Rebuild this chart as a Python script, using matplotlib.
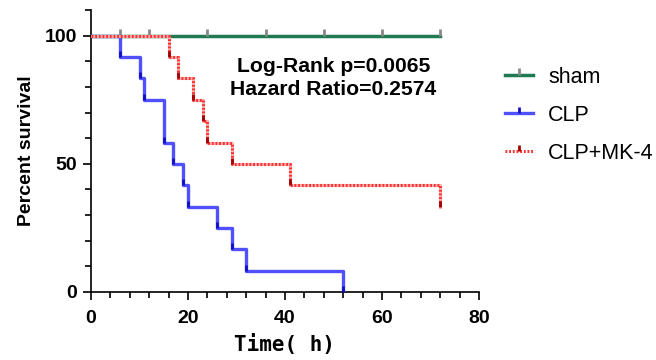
import matplotlib
matplotlib.use("Agg")
import matplotlib.pyplot as plt
from matplotlib.lines import Line2D
from matplotlib.ticker import MultipleLocator

plt.rcParams['font.family'] = ['Liberation Sans', 'Noto Sans CJK SC', 'DejaVu Sans']

# ---- données ----
sham_end = 72
sham_censor = [6, 12, 24, 36, 48, 60, 72]

clp_t = [6, 10, 11, 15, 17, 19, 20, 26, 29, 32, 52]
clp_s = [91.7, 83.3, 75.0, 58.3, 50.0, 41.7, 33.3, 25.0, 16.7, 8.3, 0.0]

mk4_t = [16, 18, 21, 23, 24, 29, 41, 72]
mk4_s = [91.7, 83.3, 75.0, 66.7, 58.3, 50.0, 41.7, 33.3]

labels = ["sham", "CLP", "CLP+MK-4"]
stats_txt = "Log-Rank p=0.0065\nHazard Ratio=0.2574"

green = "#1f7a52"
blue = "#5050ff"
red = "#ff3030"

fig = plt.figure(figsize=(6.56, 3.6), dpi=100)
ax = fig.add_axes([91/656, 1 - 292/360, (479-91)/656, (292-10)/360])

# sham
ax.plot([0, sham_end], [100, 100], color=green, lw=2.5, zorder=2)
ax.plot(sham_censor, [100]*len(sham_censor), ls="none", marker=2,
        ms=5, mew=2, color="#888888", zorder=2)

# CLP
ax.step([0] + clp_t, [100] + clp_s, where="post", color=blue, lw=2.4, zorder=3)
ax.plot(clp_t, clp_s, ls="none", marker=2, ms=4, mew=2, color="#1010c0", zorder=3)

# CLP+MK-4
x = [0] + mk4_t
y = [100] + mk4_s
ax.step(x, y, where="post", color="#ffb0b0", lw=2.2, zorder=4)
ax.step(x, y, where="post", color=red, lw=2.2, ls=(0, (0.6, 0.6)), zorder=4)
ax.plot(mk4_t, mk4_s, ls="none", marker=2, ms=4, mew=2, color="#a00000", zorder=4)

ax.text(50, 83.5, stats_txt, ha="center", va="center", fontsize=15.2,
        fontweight="bold", linespacing=1.25)

ax.set_xlim(0, 80)
ax.set_ylim(0, 110)
ax.spines["top"].set_visible(False)
ax.spines["right"].set_visible(False)
ax.spines["left"].set_bounds(0, 110)
ax.spines["bottom"].set_bounds(0, 80)
for s in ("left", "bottom"):
    ax.spines[s].set_linewidth(1.2)

ax.set_xticks([0, 20, 40, 60, 80])
ax.set_yticks([0, 50, 100])
ax.xaxis.set_minor_locator(MultipleLocator(4))
ax.yaxis.set_minor_locator(MultipleLocator(10))
ax.tick_params(which="major", length=6, width=1.2, labelsize=14)
ax.tick_params(axis="x", which="major", pad=7)
ax.tick_params(axis="y", which="major", pad=4)
ax.tick_params(which="minor", length=4, width=1.2)
for lab in ax.get_xticklabels() + ax.get_yticklabels():
    lab.set_fontweight("bold")

ax.set_ylabel("Percent survival", fontsize=14, fontweight="bold", labelpad=7)
ax.set_xlabel("Time( h)", fontsize=15, fontweight="bold",
              family="DejaVu Sans Mono", labelpad=5)

handles = [
    Line2D([0], [0], color=green, lw=2.5, marker=2, ms=5, mew=2, mec="#888888"),
    Line2D([0], [0], color=blue, lw=2.4, marker=2, ms=4, mew=2, mec="#1010c0"),
    Line2D([0], [0], color=red, lw=2.2, ls=(0, (0.6, 0.6)), marker=2, ms=4, mew=2, mec="#a00000"),
]
fig.legend(handles, labels, loc="upper left", bbox_to_anchor=(505/656, 1 - 67/360),
           frameon=False, fontsize=15.5, handlelength=1.3, handletextpad=0.7,
           labelspacing=0.78, borderpad=0, borderaxespad=0)

fig.savefig("out.png", dpi=100)
